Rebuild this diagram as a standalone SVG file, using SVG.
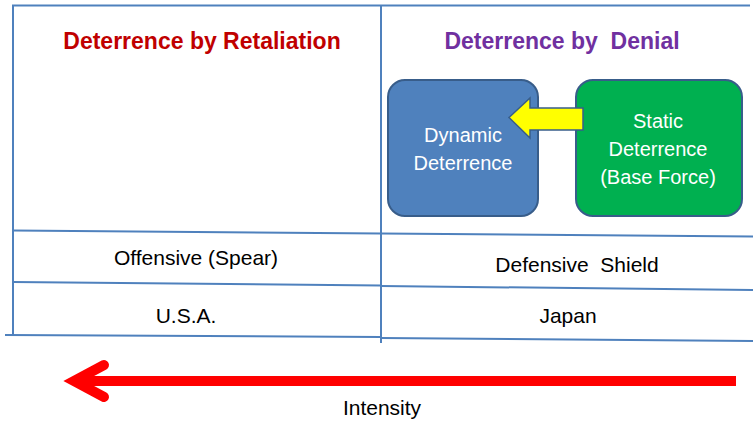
<svg xmlns="http://www.w3.org/2000/svg" width="753" height="421" viewBox="0 0 753 421">
<style>
.grid{stroke:#4F81BD;stroke-width:2;fill:none}
.t{font-family:"Liberation Sans",Arial,sans-serif;font-size:21px;text-anchor:middle}
.b{font-family:"Liberation Sans",Arial,sans-serif;font-size:20px;text-anchor:middle}
.h{font-family:"Liberation Sans",Arial,sans-serif;font-size:23px;font-weight:bold;text-anchor:middle}
.box{stroke:#385D8A;stroke-width:2}
</style>
<rect width="753" height="421" fill="#ffffff"/>
<g id="table">
<line class="grid" x1="12" y1="5.5" x2="750" y2="5.5"/>
<line class="grid" x1="13" y1="5" x2="13" y2="336"/>
<line class="grid" x1="381" y1="5" x2="381" y2="343"/>
<line class="grid" x1="13" y1="230.5" x2="381" y2="233.5"/>
<line class="grid" x1="381" y1="233.5" x2="753" y2="236.5"/>
<line class="grid" x1="13" y1="282" x2="381" y2="285.5"/>
<line class="grid" x1="381" y1="286" x2="753" y2="290"/>
<line class="grid" x1="5" y1="335" x2="381" y2="337"/>
<line class="grid" x1="381" y1="338" x2="753" y2="341"/>
</g>
<g id="heading-retaliation"><text class="h" x="202" y="49" fill="#C00000">Deterrence by Retaliation</text></g>
<g id="heading-denial"><text class="h" x="562" y="49" fill="#7030A0" xml:space="preserve">Deterrence by  Denial</text></g>
<g id="dynamic">
<rect class="box" x="388" y="80" width="150" height="136" rx="17" fill="#4F81BD"/>
<text class="b" x="463" y="142" fill="#ffffff">Dynamic</text>
<text class="b" x="463" y="170" fill="#ffffff">Deterrence</text>
</g>
<g id="static">
<rect class="box" x="576" y="80" width="166" height="136" rx="17" fill="#00B050"/>
<text class="b" x="658" y="128" fill="#ffffff">Static</text>
<text class="b" x="658" y="156" fill="#ffffff">Deterrence</text>
<text class="b" x="658" y="184" fill="#ffffff">(Base Force)</text>
</g>
<g id="connectors">
<path d="M583,108 L530,108 L530,98 L509,117.5 L530,138 L530,130 L583,130 Z" fill="#FFFF00" stroke="#385D8A" stroke-width="1.5" stroke-linejoin="miter"/>
<line x1="736" y1="381" x2="74" y2="381" stroke="#FF0000" stroke-width="10"/>
<path d="M104,365 L74,381 L104,397" fill="none" stroke="#FF0000" stroke-width="10" stroke-linecap="round" stroke-linejoin="miter"/>
</g>
<g id="cell-offensive"><text class="t" x="196" y="265" fill="#000000">Offensive (Spear)</text></g>
<g id="cell-defensive"><text class="t" x="577" y="272" fill="#000000" xml:space="preserve">Defensive  Shield</text></g>
<g id="cell-usa"><text class="t" x="186" y="323" fill="#000000">U.S.A.</text></g>
<g id="cell-japan"><text class="t" x="568" y="323" fill="#000000">Japan</text></g>
<g id="intensity"><text class="t" x="382" y="415" fill="#000000">Intensity</text></g>
</svg>
